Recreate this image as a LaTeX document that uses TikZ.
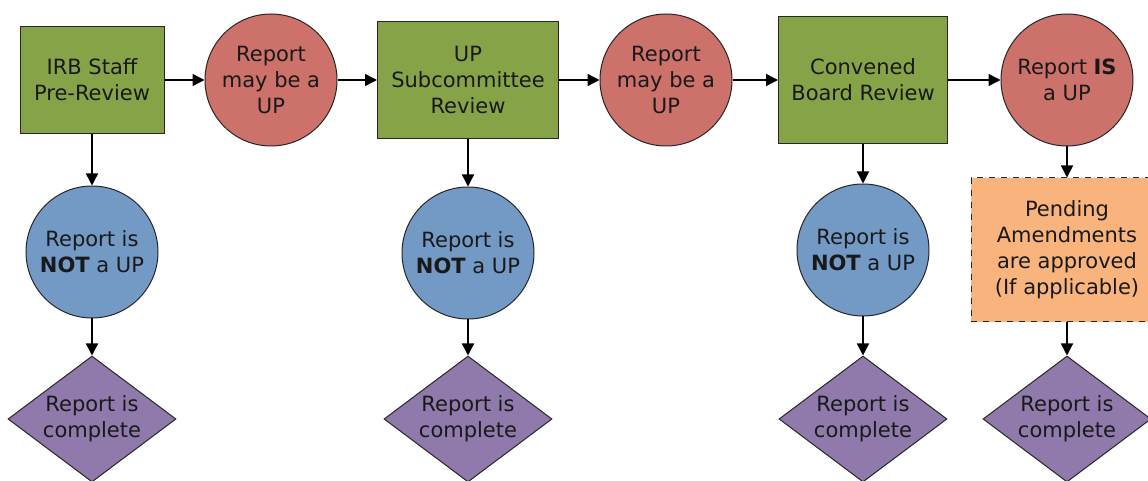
\documentclass[tikz,border=0pt]{standalone}
\usepackage{fontspec}
\setmainfont{DejaVu Sans}
\usetikzlibrary{arrows.meta,shapes.geometric}
\definecolor{stepgreen}{HTML}{86A447}
\definecolor{mayred}{HTML}{CD716B}
\definecolor{notblue}{HTML}{7399C5}
\definecolor{donepurple}{HTML}{8F7AAB}
\definecolor{pendorange}{HTML}{F8B47C}
\begin{document}
\begin{tikzpicture}[x=0.5pt,y=-0.5pt,
  every node/.style={font=\fontsize{10.5}{13}\selectfont,align=center,text=black!90,draw=black!85,line width=0.5pt,inner sep=1pt},
  stage/.style={rectangle,fill=stepgreen},
  maybe/.style={circle,fill=mayred,minimum size=66pt},
  notup/.style={circle,fill=notblue,minimum size=66pt},
  finish/.style={diamond,fill=donepurple,aspect=1.33,minimum width=84pt,minimum height=63pt,inner sep=0pt},
  flow/.style={-{Triangle[length=6pt,width=6pt]},line width=0.7pt,black}]
 \useasboundingbox (0,0) rectangle (1148,481);
 \fill[white] (0,0) rectangle (1148,481);
 \clip (0,0) rectangle (1148,481);
 % top row
 \node[stage,minimum width=72pt,minimum height=53.5pt] (staff) at (92,80) {IRB Staff\\Pre-Review};
 \node[maybe] (may1) at (271,80) {Report\\may be a\\UP};
 \node[stage,minimum width=90.5pt,minimum height=58.5pt] (subc) at (468,80) {UP\\Subcommittee\\Review};
 \node[maybe] (may2) at (666,80) {Report\\may be a\\UP};
 \node[stage,minimum width=84.5pt,minimum height=63.5pt] (board) at (863,80) {Convened\\Board Review};
 \node[maybe] (isup) at (1067,80) {Report \textbf{IS}\\a UP};
 % middle row
 \node[notup] (not1) at (92,252) {Report is\\\textbf{NOT} a UP};
 \node[notup] (not2) at (468,253) {Report is\\\textbf{NOT} a UP};
 \node[notup] (not3) at (863,250) {Report is\\\textbf{NOT} a UP};
 \node[rectangle,dashed,fill=pendorange,minimum width=96pt,minimum height=72pt] (pend) at (1067,250) {Pending\\Amendments\\are approved\\(If applicable)};
 % bottom row
 \node[finish] (done1) at (92,419) {Report is\\complete};
 \node[finish] (done2) at (468,419) {Report is\\complete};
 \node[finish] (done3) at (863,419) {Report is\\complete};
 \node[finish] (done4) at (1067,419) {Report is\\complete};
 % arrows
 \draw[flow] (staff) -- (may1);
 \draw[flow] (may1) -- (subc);
 \draw[flow] (subc) -- (may2);
 \draw[flow] (may2) -- (board);
 \draw[flow] (board) -- (isup);
 \draw[flow] (staff) -- (not1);
 \draw[flow] (subc) -- (not2);
 \draw[flow] (board) -- (not3);
 \draw[flow] (isup) -- (pend);
 \draw[flow] (not1) -- (done1);
 \draw[flow] (not2) -- (done2);
 \draw[flow] (not3) -- (done3);
 \draw[flow] (pend) -- (done4);
\end{tikzpicture}
\end{document}
